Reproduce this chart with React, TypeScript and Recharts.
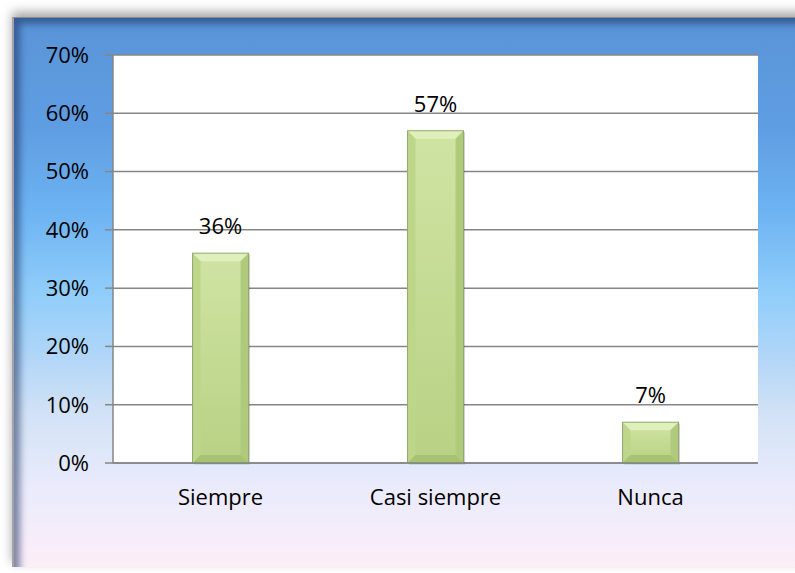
import React from "react";
import { BarChart, Bar, XAxis, YAxis, CartesianGrid, LabelList } from "recharts";

const categories = ["Siempre", "Casi siempre", "Nunca"];
const values = [0.36, 0.57, 0.07];
const yTicks = [0, 0.1, 0.2, 0.3, 0.4, 0.5, 0.6, 0.7];

const data = categories.map((name, i) => ({ name, value: values[i] }));

const FONT = "'Open Sans', 'Liberation Sans', sans-serif";
const pct = (v: number) => `${Math.round(v * 100)}%`;

const BevelBar = (props: any) => {
  const { x, y, width, height } = props;
  if (!height || height <= 0) return null;
  const b = Math.min(8, width / 4, height / 3);
  const r = x + width;
  const bt = y + height;
  return (
    <g>
      <rect x={x + 1.5} y={y + 1.5} width={width} height={height} fill="rgba(0,0,0,0.16)" />
      <rect x={x} y={y} width={width} height={height} fill="url(#barFace)" />
      <polygon points={`${x},${y} ${r},${y} ${r - b},${y + b} ${x + b},${y + b}`} fill="#e0f0bb" />
      <polygon points={`${x},${y} ${x + b},${y + b} ${x + b},${bt - b} ${x},${bt}`} fill="#bdd68a" />
      <polygon points={`${r},${y} ${r - b},${y + b} ${r - b},${bt - b} ${r},${bt}`} fill="#b0ca7c" />
      <polygon points={`${x},${bt} ${x + b},${bt - b} ${r - b},${bt - b} ${r},${bt}`} fill="#a8c273" />
      <rect x={x} y={y} width={width} height={height} fill="none" stroke="#93a872" strokeWidth={1} />
    </g>
  );
};

export default function App() {
  return (
    <div style={{ position: "fixed", left: 0, top: 0, width: 795, height: 573, overflow: "hidden", background: "#fff" }}>
      <div
        style={{
          position: "absolute",
          left: 12,
          top: 17,
          width: 800,
          height: 550,
          boxSizing: "border-box",
          borderTop: "1px solid #8a8a8a",
          borderLeft: "2px solid #a2a2a8",
          background:
            "linear-gradient(to bottom, #5a94d8 0%, #5f9de2 20%, #6db3f2 35%, #8fcdfa 50%, #b2d6f8 62%, #d2e2f6 72%, #e9ebfc 85%, #fdeef8 100%)",
          boxShadow: "inset 9px 9px 7px -3px rgba(25,50,95,0.55), 0 -5px 10px rgba(0,0,0,0.35)",
        }}
      />
      <div style={{ position: "absolute", left: 0, top: 0 }}>
        <BarChart
          width={795}
          height={573}
          data={data}
          margin={{ top: 55, right: 37, left: 0, bottom: 0 }}
          barCategoryGap="37%"
        >
          <defs>
            <linearGradient id="barFace" x1="0" y1="0" x2="0" y2="1">
              <stop offset="0%" stopColor="#cfe4a3" />
              <stop offset="100%" stopColor="#b8d184" />
            </linearGradient>
          </defs>
          <CartesianGrid vertical={false} stroke="#868686" strokeWidth={1.5} fill="#ffffff" fillOpacity={1} />
          <XAxis
            dataKey="name"
            height={110}
            tickLine={false}
            tickSize={0}
            tickMargin={26}
            axisLine={{ stroke: "#868686", strokeWidth: 1.5 }}
            tick={{ fill: "#000", fontSize: 22, fontFamily: FONT }}
          />
          <YAxis
            width={113}
            domain={[0, 0.7]}
            ticks={yTicks}
            interval={0}
            tickFormatter={pct}
            tickSize={8}
            tickMargin={16}
            axisLine={{ stroke: "#868686", strokeWidth: 1.5 }}
            tickLine={{ stroke: "#868686", strokeWidth: 1.5 }}
            tick={{ fill: "#000", fontSize: 22, fontFamily: FONT }}
          />
          <Bar dataKey="value" shape={<BevelBar />} isAnimationActive={false}>
            <LabelList
              dataKey="value"
              position="top"
              offset={19}
              formatter={(v: any) => pct(Number(v))}
              style={{ fill: "#000", fontSize: 22, fontFamily: FONT }}
            />
          </Bar>
        </BarChart>
      </div>
    </div>
  );
}
